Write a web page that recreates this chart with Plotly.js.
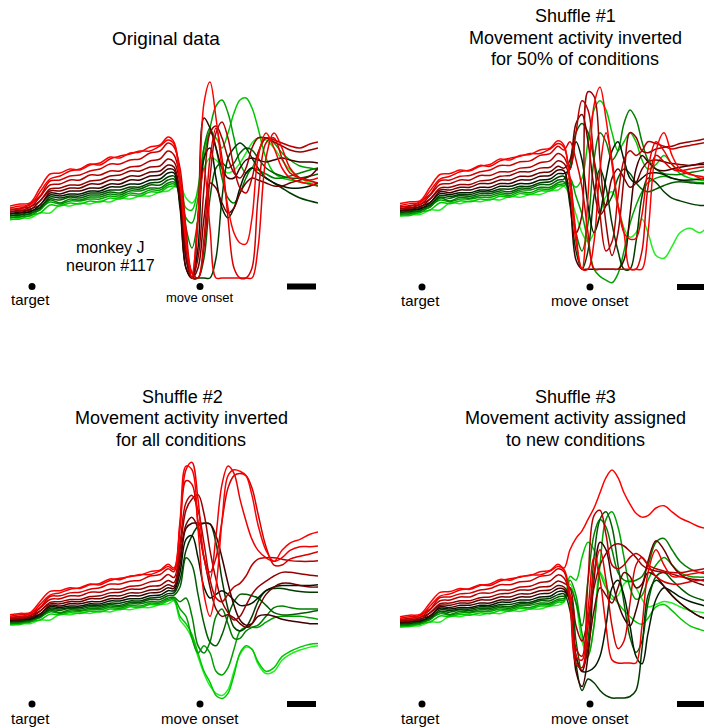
<!DOCTYPE html>
<html>
<head>
<meta charset="utf-8">
<script src="https://cdn.plot.ly/plotly-3.0.1.min.js"></script>
<style>html,body{margin:0;padding:0;background:#fff;}#chart{width:704px;height:728px;}</style>
</head>
<body>
<div id="chart"></div>
<script>
// ---------- DATA ----------
// time bins (1 unit ~ 1 px of the original time axis)
const T_PREP = [0,10,20,30,40,50,60,70,80,90,100,110,120,130,140,150,158,164];
const T_MOV  = [170,176,182,188,194,200,206,212,218,224,230,236,242,248,256,264,272,280,290,300,308];
const EVENT_T = [22, 190];            // target, move onset
const EVENT_LABELS = ['target', 'move onset'];
const SCALE_BAR = [277, 306];

// condition colours: red -> black -> green
const COLORS = ['#ff0000','#ee0000','#d40000','#b80000','#960000','#6e0000','#400000',
                '#001a00','#003c00','#005c00','#007e00','#00a000','#00c800','#22ee22'];

// preparatory activity (shared by all four panels)
const PREP = [
 [72,74,75,90,104,105,109,108,113,115,121,120,125,126,131,133,141,136],
 [70,72,73,86,99,102,107,109,114,113,119,122,124,127,127,132,138,134],
 [69,69,74,82,97,98,102,103,107,109,114,114,118,119,125,127,135,131],
 [68,70,71,81,93,94,98,98,103,103,107,107,111,112,117,119,127,123],
 [67,67,71,77,89,90,93,93,97,98,102,103,107,107,111,112,119,116],
 [66,68,68,77,87,87,90,90,94,94,98,98,102,102,106,107,113,111],
 [65,65,69,73,85,84,87,87,90,90,94,94,98,98,102,103,109,108],
 [64,66,66,73,83,82,84,84,87,87,91,91,94,94,98,99,105,105],
 [63,63,67,70,81,80,82,82,85,85,88,88,91,91,95,96,101,102],
 [62,64,64,71,79,78,81,80,83,83,86,85,89,89,93,93,98,99],
 [61,61,65,68,78,75,79,78,81,81,84,83,87,87,90,90,95,96],
 [60,62,62,69,76,74,77,77,79,79,82,81,85,84,88,88,93,94],
 [59,59,63,65,73,72,75,74,77,76,80,79,83,82,86,86,91,92],
 [58,60,60,65,65,73,72,75,74,77,76,80,79,82,82,86,87,91]
];

// movement activity, original data
const MOV_ORIGINAL = [
 [95,35,5,60,175,196,160,110,70,45,35,34,60,120,145,130,110,100,96,94,92],
 [100,40,0,60,110,50,0,0,0,0,0,0,0,30,120,145,130,110,100,98,100],
 [110,50,5,0,40,120,150,120,60,10,0,0,10,80,135,140,120,105,100,97,95],
 [100,40,0,0,30,100,145,156,140,110,90,85,100,125,140,138,135,132,130,134,136],
 [95,30,0,20,90,145,152,140,120,105,100,110,130,140,140,136,132,128,126,128,130],
 [85,20,0,10,60,95,90,75,65,70,85,95,100,98,95,92,92,95,98,102,110],
 [75,10,0,60,160,150,130,110,100,100,110,118,120,118,116,118,120,118,116,116,115],
 [70,10,0,30,120,130,100,70,60,70,90,105,110,105,100,95,92,90,90,92,95],
 [75,20,0,0,0,0,20,80,120,130,135,130,120,110,100,95,90,85,80,77,75],
 [80,30,5,0,20,80,110,115,110,115,125,130,128,120,110,105,102,100,100,102,104],
 [85,50,30,60,130,150,130,100,80,75,85,100,110,108,104,100,100,102,105,108,110],
 [85,60,55,80,120,150,172,178,165,140,115,105,110,125,140,135,125,118,112,110,108],
 [88,70,68,90,130,145,140,130,145,165,178,180,170,150,120,105,100,98,96,94,92],
 [92,80,75,85,110,120,118,110,105,108,115,125,135,140,138,130,118,108,100,95,93]
];

// movement activity, shuffle #1 (inverted for 50% of conditions)
const MOV_SHUFFLE1 = [
 [90,30,0,80,180,200,165,115,70,40,0,0,0,40,130,150,125,110,105,100,98],
 [100,40,0,0,30,110,150,120,70,40,33,34,60,110,140,130,115,108,104,102,100],
 [140,120,90,40,0,0,0,0,0,0,0,0,20,90,125,118,110,108,110,112,112],
 [110,150,185,175,120,60,20,30,80,120,130,125,130,140,138,135,132,134,136,138,140],
 [100,40,60,195,190,120,50,15,40,100,150,145,130,128,132,134,135,138,140,142,144],
 [120,160,170,140,90,60,70,100,110,100,90,95,110,118,120,118,116,115,114,116,118],
 [75,10,0,0,0,0,0,0,0,10,60,110,125,118,110,108,110,112,114,115,115],
 [110,140,120,70,40,60,100,130,140,120,100,95,100,105,106,104,100,98,98,99,100],
 [70,20,0,20,80,110,90,50,20,0,0,30,80,100,95,85,78,75,72,70,70],
 [115,150,160,150,120,90,70,80,100,110,105,95,88,85,88,92,95,96,95,94,94],
 [80,40,20,50,120,150,140,120,130,160,175,165,140,120,110,105,104,104,106,108,110],
 [100,80,60,30,0,-8,-12,-15,-5,20,50,70,85,95,100,102,100,98,96,95,95],
 [95,90,100,140,175,185,175,150,130,140,150,140,120,110,115,125,115,105,100,98,97],
 [80,60,40,30,40,60,80,85,70,45,35,40,55,40,15,12,25,40,45,40,48]
];

// movement activity, shuffle #2 (inverted for all conditions)
const MOV_SHUFFLE2 = [
 [200,275,270,190,100,70,110,200,262,270,268,262,235,195,160,145,160,170,175,182,185],
 [195,270,280,230,150,120,180,250,275,265,230,200,175,160,150,145,150,160,165,165,166],
 [190,255,250,200,150,130,150,200,245,262,265,262,245,210,165,140,140,148,152,155,158],
 [170,225,235,215,170,120,95,90,100,110,115,125,140,148,150,150,148,146,145,145,146],
 [160,215,230,236,210,160,120,90,75,65,70,85,100,110,118,125,130,130,128,126,125],
 [150,195,205,190,150,110,80,70,72,68,60,55,60,80,100,110,115,115,112,110,110],
 [140,190,197,197,197,196,180,150,115,85,65,58,60,70,72,70,66,64,62,60,60],
 [130,175,180,150,110,95,100,105,100,92,85,85,88,95,105,110,112,112,112,112,113],
 [120,160,180,193,197,196,170,120,80,55,50,55,70,90,105,108,108,106,104,103,103],
 [110,150,140,100,60,35,30,45,70,90,100,100,98,95,85,75,72,72,74,76,78],
 [90,95,70,30,20,35,70,80,60,40,40,50,55,58,70,82,84,82,80,80,80],
 [80,70,40,20,30,20,-5,-10,0,25,50,55,55,55,62,68,70,70,70,68,66],
 [70,60,45,20,-5,-20,-38,-42,-35,-10,20,30,25,8,-5,0,15,22,28,32,33],
 [65,55,40,15,-8,-25,-35,-38,-30,-5,18,28,25,5,-8,-5,10,18,24,28,30]
];

// movement activity, shuffle #3 (assigned to new conditions)
const MOV_SHUFFLE3 = [
 [160,175,185,200,215,235,255,265,255,235,220,208,203,205,215,218,210,202,196,190,188],
 [100,20,15,80,150,120,60,15,11,11,11,11,60,130,160,140,125,125,128,130,132],
 [90,10,5,60,130,160,120,60,30,40,90,140,150,140,125,118,115,115,118,120,122],
 [100,30,20,120,205,212,180,140,135,140,150,155,150,140,135,132,130,130,132,134,136],
 [110,60,40,70,110,140,155,165,168,165,158,150,140,135,132,130,128,125,122,120,118],
 [95,20,0,30,80,110,100,90,110,130,125,110,115,145,172,160,140,128,120,115,112],
 [90,0,-20,20,120,170,160,120,90,70,60,80,110,130,125,112,100,90,80,72,68],
 [95,20,0,0,5,20,60,110,120,100,60,20,10,50,95,110,105,98,92,88,85],
 [80,10,-25,-10,-15,-25,-32,-35,-35,-35,-33,-25,30,100,120,112,100,90,80,72,70],
 [100,40,0,40,150,200,210,190,140,90,45,25,40,90,125,130,120,110,100,95,92],
 [110,90,60,120,180,200,190,160,130,120,118,120,125,140,170,175,160,145,135,130,128],
 [120,100,50,20,60,140,200,210,190,150,110,95,100,120,140,150,140,130,125,124,124],
 [125,120,150,170,160,130,110,100,90,80,72,65,62,70,85,88,80,70,60,55,52],
 [115,90,40,20,60,130,115,95,100,115,120,110,95,85,88,92,90,85,80,78,76]
];

// ---------- LAYOUT ----------
const W = 704, H = 728;
const FONT = 'Liberation Sans, Arial, Helvetica, sans-serif';
const panels = [
  {mov: MOV_ORIGINAL, xl: 10,  xr: 318, top: 66,  bot: 312, y0: 213, k: 1.00, dotY: 286.5, lblY: 299, onsetLblY: 297, onsetSize: 13},
  {mov: MOV_SHUFFLE1, xl: 400, xr: 704, top: 66,  bot: 312, y0: 210, k: 0.91, dotY: 287,   lblY: 300, onsetLblY: 300, onsetSize: 15},
  {mov: MOV_SHUFFLE2, xl: 10,  xr: 318, top: 452, bot: 728, y0: 620, k: 0.733, dotY: 704,  lblY: 718, onsetLblY: 718, onsetSize: 15},
  {mov: MOV_SHUFFLE3, xl: 400, xr: 704, top: 452, bot: 728, y0: 622, k: 0.76, dotY: 704,   lblY: 718, onsetLblY: 718, onsetSize: 15}
];

const traces = [];
const layout = {
  width: W, height: H,
  margin: {l: 0, r: 0, t: 0, b: 0},
  paper_bgcolor: '#fff', plot_bgcolor: 'rgba(0,0,0,0)',
  showlegend: false,
  font: {family: FONT, color: '#000'},
  annotations: []
};

const T_ALL = T_PREP.concat(T_MOV);

panels.forEach((p, i) => {
  const n = i + 1;
  const xa = 'x' + (n === 1 ? '' : n), ya = 'y' + (n === 1 ? '' : n);
  const vAt = y => 65 + (p.y0 - y) / p.k;
  const axCommon = {showgrid: false, zeroline: false, showline: false, showticklabels: false, ticks: '', fixedrange: true};
  layout['xaxis' + (n === 1 ? '' : n)] = Object.assign({}, axCommon, {
    domain: [p.xl / W, p.xr / W], range: [0, p.xr - p.xl], anchor: ya
  });
  layout['yaxis' + (n === 1 ? '' : n)] = Object.assign({}, axCommon, {
    domain: [1 - p.bot / H, 1 - p.top / H], range: [vAt(p.bot), vAt(p.top)], anchor: xa
  });
  // condition traces: green first, red on top
  for (let c = PREP.length - 1; c >= 0; c--) {
    traces.push({
      type: 'scatter', mode: 'lines', xaxis: xa, yaxis: ya,
      x: T_ALL, y: PREP[c].concat(p.mov[c]),
      line: {color: COLORS[c], width: 1.5, shape: 'spline', smoothing: 1},
      hoverinfo: 'skip'
    });
  }
  // event dots
  traces.push({
    type: 'scatter', mode: 'markers', xaxis: xa, yaxis: ya,
    x: EVENT_T, y: EVENT_T.map(() => vAt(p.dotY)),
    marker: {color: '#000', size: 7}, hoverinfo: 'skip', cliponaxis: false
  });
  // scale bar
  traces.push({
    type: 'scatter', mode: 'lines', xaxis: xa, yaxis: ya,
    x: SCALE_BAR, y: SCALE_BAR.map(() => vAt(p.dotY)),
    line: {color: '#000', width: 6}, hoverinfo: 'skip'
  });
  // event labels
  layout.annotations.push({
    xref: xa, yref: 'paper', x: EVENT_T[0] - 2, y: 1 - p.lblY / H,
    text: EVENT_LABELS[0], showarrow: false, font: {size: 15, family: FONT, color: '#000'},
    xanchor: 'center', yanchor: 'middle'
  });
  layout.annotations.push({
    xref: xa, yref: 'paper', x: EVENT_T[1], y: 1 - p.onsetLblY / H,
    text: EVENT_LABELS[1], showarrow: false, font: {size: p.onsetSize, family: FONT, color: '#000'},
    xanchor: 'center', yanchor: 'middle'
  });
});

// titles and notes (one annotation per line, pixel placed)
const TEXTS = [
  ['Original data', 166, 38, 19],
  ['Shuffle #1', 575, 16, 18],
  ['Movement activity inverted', 575, 38, 18],
  ['for 50% of conditions', 575, 59, 18],
  ['Shuffle #2', 182, 397, 18],
  ['Movement activity inverted', 181, 418, 18],
  ['for all conditions', 181, 440, 18],
  ['Shuffle #3', 575, 397, 18],
  ['Movement activity assigned', 575, 418, 18],
  ['to new conditions', 575, 440, 18],
  ['monkey J', 110, 247, 16],
  ['neuron #117', 110, 265, 16]
];
TEXTS.forEach(t => {
  layout.annotations.push({
    xref: 'paper', yref: 'paper', x: t[1] / W, y: 1 - t[2] / H,
    text: t[0], showarrow: false, xanchor: 'center', yanchor: 'middle',
    font: {size: t[3], family: FONT, color: '#000'}
  });
});

Plotly.newPlot('chart', traces, layout, {staticPlot: true, displayModeBar: false});
</script>
</body>
</html>
